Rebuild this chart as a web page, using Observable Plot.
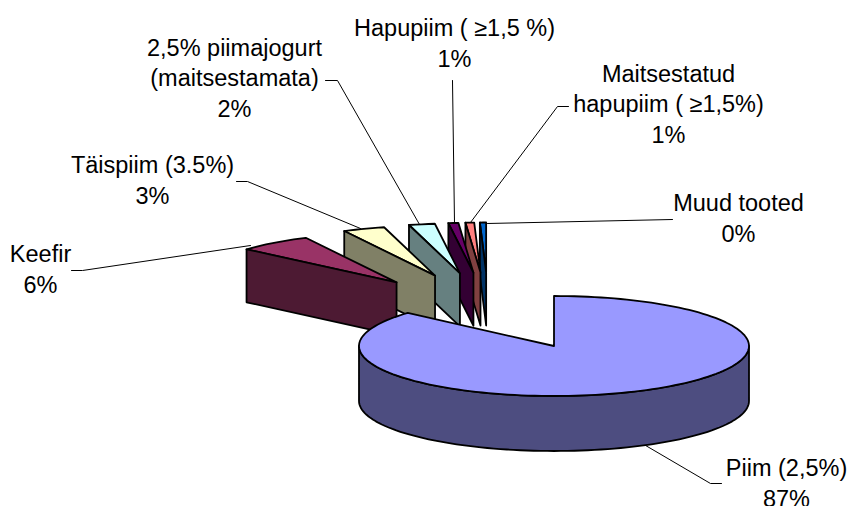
<!DOCTYPE html>
<html><head><meta charset="utf-8">
<script src="https://cdn.jsdelivr.net/npm/d3@7"></script>
<script src="https://cdn.jsdelivr.net/npm/@observablehq/plot@0.6"></script>
<style>html,body{margin:0;padding:0;background:#fff}svg{display:block}</style>
</head><body><div id="chart"></div>
<script>
const categories = ["Piim (2,5%)","Keefir","Täispiim (3.5%)","2,5% piimajogurt\n(maitsestamata)","Hapupiim ( ≥1,5 %)","Maitsestatud\nhapupiim ( ≥1,5%)","Muud tooted"];
const shares = [86.5, 6.0, 3.4, 2.1, 0.8, 0.7, 0.5];
const percentLabels = ["87%","6%","3%","2%","1%","1%","0%"];
const topColors = ["#9999ff","#993366","#ffffcc","#ccffff","#660066","#ff8080","#0066cc"];
const sideColors = ["#4d4d80","#4d1a33","#808066","#668080","#330033","#804040","#003366"];

// layout
const RAD = Math.PI/180;
const main = {cx:553.5, cy:345.5, rx:195, ry:50, depth:55};
const hub = {x:488, y:319, ex:150, ey:47}, wedge = {rx:200, ry:50, depth:53};
const labelPos = [[786,481],[40,267],[152,178],[234,76],[454,41],[668,102],[738,216]];
const leaders = [
 [[640,442],[710,483],[721,483]],
 [[71,270],[82,270],[250,245]],
 [[236,181],[247,181],[360,228]],
 [[325,80],[337,80],[419,224]],
 [[452,80],[454,222]],
 [[568,106],[557,106],[470,222]],
 [[672,219],[487,223]]
];

let acc = 0;
const slices = shares.map((v,i)=>{const a0=acc/100*360; acc+=v; const a1=acc/100*360; return {i,a0,a1,mid:(a0+a1)/2};});
const arc=(c,r,a0,a1)=>{const n=Math.max(2,Math.ceil((a1-a0)/2));return d3.range(n+1).map(k=>{const a=(a0+(a1-a0)*k/n)*RAD;return {x:c.x+r.rx*Math.sin(a),y:c.y-r.ry*Math.cos(a)};});};
const closed=p=>[...p,p[0]];
const poly=(p,fill)=>Plot.line(closed(p),{x:"x",y:"y",fill,stroke:"#000",strokeWidth:1.8,strokeLinejoin:"round",curve:"linear"});

const marks=[];
// leader lines sit under the slices
leaders.forEach(l=>marks.push(Plot.line(l.map(([x,y])=>({x,y})),{x:"x",y:"y",stroke:"#000",strokeWidth:1,curve:"linear"})));
// exploded wedges, back to front
slices.slice(1).reverse().forEach(s=>{
  const m=s.mid*RAD;
  const apex={x:hub.x+hub.ex*Math.sin(m),y:hub.y-hub.ey*Math.cos(m)};
  const rim=arc(apex,wedge,s.a0,s.a1);
  marks.push(poly([...rim,apex],topColors[s.i]));
  const L=rim[0];
  marks.push(poly([L,apex,{x:apex.x,y:apex.y+wedge.depth},{x:L.x,y:L.y+wedge.depth}],sideColors[s.i]));
});
// main slice
const mc={x:main.cx,y:main.cy};
const s0=slices[0];
const lower=arc(mc,main,90,270);
marks.push(poly([...lower,...lower.slice().reverse().map(p=>({x:p.x,y:p.y+main.depth}))],sideColors[0]));
marks.push(poly([...arc(mc,main,s0.a0,s0.a1),mc],topColors[0]));
// labels
marks.push(Plot.text(categories.map((c,i)=>({t:c+"\n"+percentLabels[i],x:labelPos[i][0],y:labelPos[i][1]})),{
  x:"x",y:"y",text:"t",textAnchor:"middle",lineAnchor:"middle",lineHeight:1.3,fontSize:23.5,fill:"#000",
  fontFamily:"'Liberation Sans',Arial,sans-serif"}));

const chart=Plot.plot({width:850,height:506,margin:0,
  style:{background:"#fff"},
  x:{domain:[0,850],range:[0,850],axis:null},
  y:{domain:[0,506],range:[0,506],axis:null},
  marks});
document.getElementById("chart").append(chart);
</script></body></html>
